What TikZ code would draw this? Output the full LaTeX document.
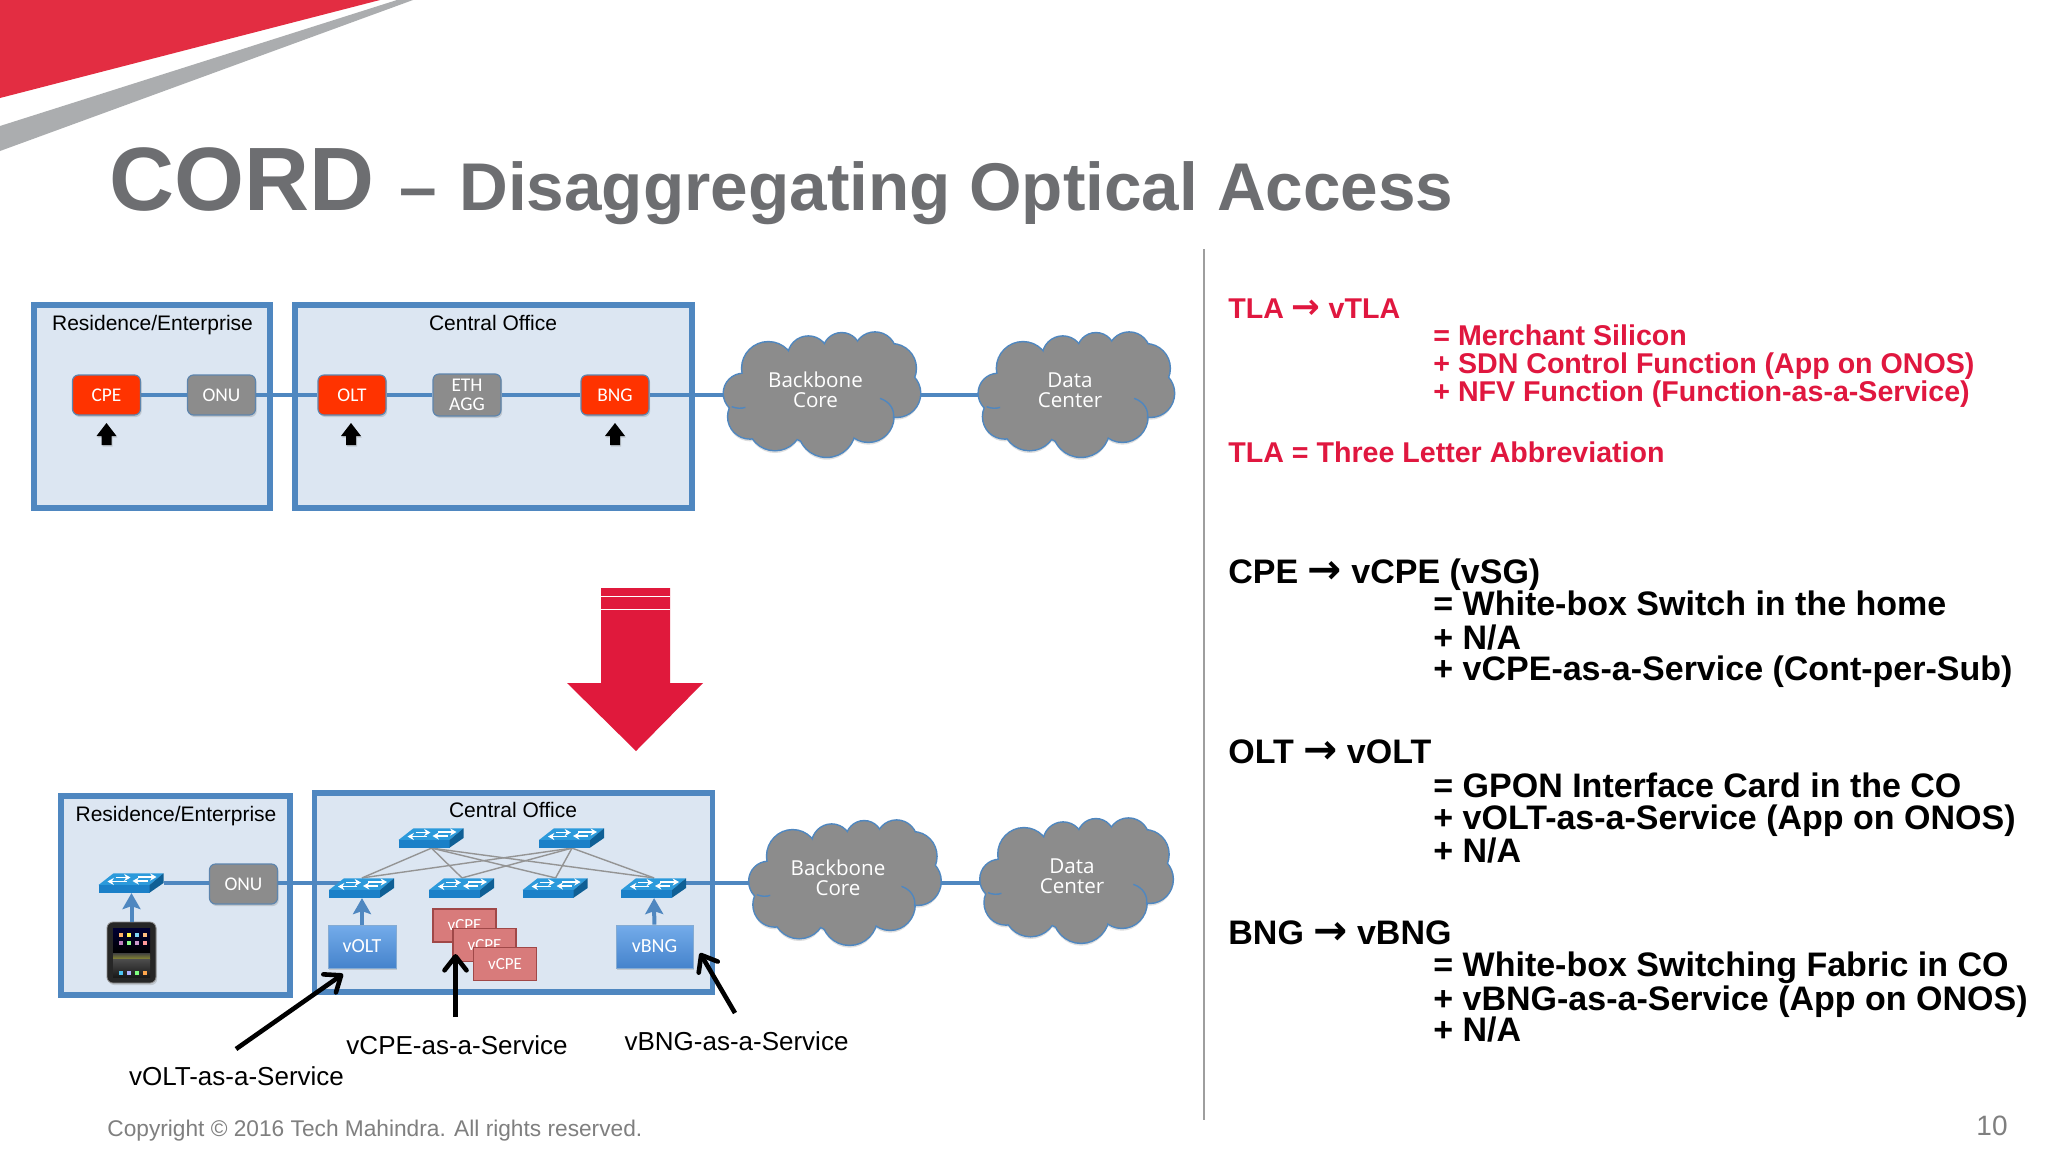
\documentclass[tikz,border=0pt]{standalone}
\usepackage{fontspec}
\usepackage{graphicx}
\setmainfont{Liberation Sans}
\newfontfamily\carlitofam{Carlito}
\newfontfamily\openfam{Open Sans}
\newfontfamily\dejafam{DejaVu Sans}
\usetikzlibrary{arrows.meta,shadows}
\pgfdeclarelayer{cont}
\pgfdeclarelayer{wire}
\pgfsetlayers{cont,wire,main}
\definecolor{linkblue}{HTML}{4F87C0}
\definecolor{boxfill}{HTML}{DCE6F2}
\definecolor{nodered}{HTML}{FF3300}
\definecolor{nodegray}{HTML}{8C8C8C}
\definecolor{bannerred}{HTML}{E32D42}
\definecolor{bannergray}{HTML}{ABADAF}
\definecolor{titlegray}{HTML}{6D6E71}
\definecolor{txtred}{HTML}{E0173F}
\definecolor{bigred}{HTML}{E0193C}
\definecolor{swfront}{HTML}{1B80C8}
\definecolor{swtop}{HTML}{2C9ADB}
\definecolor{swside}{HTML}{0F5F95}
\definecolor{cpefill}{HTML}{D87B7B}
\definecolor{cpeedge}{HTML}{A04848}
\definecolor{footgray}{HTML}{7F7F7F}
\definecolor{HLblueT}{HTML}{74ACEA}
\definecolor{HLblueB}{HTML}{4583CC}
\tikzset{
  softshadow/.style={drop shadow={opacity=.3,shadow xshift=.6pt,shadow yshift=-1pt}},
  container/.style={draw=linkblue,fill=boxfill,line width=3pt,inner sep=0pt,softshadow},
  grouplabel/.style={font=\fontsize{10.5pt}{12pt}\selectfont,inner sep=0pt,text=black},
  netbox/.style={rounded corners=3pt,draw=linkblue!70!gray,line width=.6pt,inner sep=0pt,minimum width=34pt,minimum height=20pt,text=white,align=center,font=\carlitofam\fontsize{9.7pt}{11pt}\selectfont,softshadow},
  rednode/.style={netbox,fill=nodered},
  graynode/.style={netbox,fill=nodegray},
  bluebox/.style={draw=linkblue!70,line width=.5pt,top color=HLblueT,bottom color=HLblueB,inner sep=0pt,minimum height=21.5pt,text=white,font=\carlitofam\fontsize{10pt}{12pt}\selectfont,softshadow},
  cpebox/.style={draw=cpeedge,fill=cpefill,line width=.6pt,inner sep=0pt,minimum width=31.5pt,minimum height=16.5pt,text=white,font=\carlitofam\fontsize{8.5pt}{10pt}\selectfont},
  link/.style={draw=linkblue,line width=2pt},
  upstem/.style={draw=linkblue,line width=2pt,-{Stealth[length=8pt,width=9pt,inset=1.5pt]}},
  mesh/.style={draw=black!42,line width=.7pt},
  cloudedge/.style={draw=linkblue,line width=1.5pt},
  cloudbody/.style={fill=nodegray},
  cloudtext/.style={text=white,align=center,inner sep=0pt,font=\openfam\fontsize{10.3pt}{10pt}\selectfont},
  calloutarrow/.style={draw=black,line width=2.3pt,-{Straight Barb[length=7pt,width=11pt,round]}},
  calloutlabel/.style={font=\fontsize{13pt}{15pt}\selectfont,inner sep=0pt,text=black},
  redtxt/.style={anchor=base west,inner sep=0pt,text=txtred,font=\bfseries\fontsize{14.3pt}{16pt}\selectfont},
  blacktxt/.style={anchor=base west,inner sep=0pt,text=black,font=\bfseries\fontsize{17pt}{18pt}\selectfont},
  titletxt/.style={anchor=base west,inner sep=0pt,text=titlegray,font=\bfseries},
  foottxt/.style={inner sep=0pt,text=footgray},
  switcharrow/.style={draw=white,line width=.85pt,-{Stealth[length=3.2pt,width=3.6pt]}},
}
\newcommand{\larr}{{\dejafam\bfseries\scalebox{1.2}{→}}}
\newcommand{\netswitch}[3]{%
  \begin{scope}[shift={(#2,#3)}]
    \fill[swtop] (-33,2) -- (-18,-9.7) -- (32,-9.7) -- (18,2) -- cycle;
    \fill[swfront] (-33,2) rectangle (18,9.7);
    \fill[swside] (18,2) -- (32,-9.7) -- (32,0) -- (18,9.7) -- cycle;
    \draw[switcharrow] (-16,-5.5) -- (-1,-5.5);
    \draw[switcharrow] (6,-6) -- (25,-6);
    \draw[switcharrow] (-5,-1.5) -- (-24,-1.5);
    \draw[switcharrow] (16,-2) -- (1,-2);
  \end{scope}
  \node[inner sep=0pt,minimum width=32.5pt,minimum height=9.7pt] (#1) at (#2,#3) {};}
\newcommand{\cloudblob}[3]{%
  \begin{scope}[shift={(#1,#2)},xscale=#3*.33333,yscale=.33333]
    \def\blobs{130/250/58,205/175/78,325/140/60,425/125/55,525/130/62,575/175/72,590/250/70,505/320/75,380/355/85,225/340/80,150/320/65,365/255/150}
    \foreach \cx/\cy/\cr in \blobs {\fill[black!13] (\cx,\cy+9) circle[radius=\cr];}
    \foreach \cx/\cy/\cr in \blobs {\draw[cloudedge] (\cx,\cy) circle[radius=\cr];}
    \foreach \cx/\cy/\cr in \blobs {\fill[cloudbody] (\cx,\cy) circle[radius=\cr];}
    \foreach \cx/\cy/\cr in {230/260/85,500/250/90,470/200/80,280/210/70,180/270/50,545/240/70} {\fill[cloudbody] (\cx,\cy) circle[radius=\cr];}
    \draw[linkblue,line width=.7pt] (540,265) .. controls (570,275) and (585,300) .. (580,325);
    \draw[linkblue,line width=.7pt] (95,290) .. controls (110,296) and (125,296) .. (136,292);
  \end{scope}}
\newcommand{\blackup}[1]{%
  \fill[black,drop shadow={opacity=.3,shadow xshift=.5pt,shadow yshift=-.8pt}] (#1,423) -- (#1+10,436) -- (#1+5,436) -- (#1+5,445) -- (#1-5,445) -- (#1-5,436) -- (#1-10,436) -- cycle;}
\begin{document}
\begin{tikzpicture}[x=.5pt,y=-.5pt]
\useasboundingbox (0,0) rectangle (2048,1152);
\begin{pgfonlayer}{cont}
  \fill[white] (0,0) rectangle (2048,1152);
  \fill[bannerred] (0,0) -- (380,0) -- (0,98) -- cycle;
  \fill[bannergray] (0,126) -- (397,0) -- (413,0) -- (0,151) -- cycle;
  \node[container,minimum width=118pt,minimum height=101.5pt] (resA) at (152,406.5) {};
  \node[container,minimum width=198.5pt,minimum height=101.5pt] (coA) at (493.5,406.5) {};
  \node[container,minimum width=114.5pt,minimum height=99.5pt] (resB) at (175.5,895.5) {};
  \node[container,minimum width=199pt,minimum height=99.5pt,line width=2.6pt] (coB) at (513.5,892.5) {};
\end{pgfonlayer}
% title
\node[titletxt,font=\bfseries\fontsize{45pt}{48pt}\selectfont] (title1) at (109,210) {CORD};
\node[titletxt,font=\bfseries\fontsize{33.75pt}{38pt}\selectfont] (title2) at (399,210) {–};
\node[titletxt,font=\bfseries\fontsize{33.75pt}{38pt}\selectfont] (title3) at (459,210) {Disaggregating Optical Access};
% divider
\draw[black!38,line width=1pt] (1204,249) -- (1204,1120);
% top diagram
\node[grouplabel] (resAl) at (152.5,325) {Residence/Enterprise};
\node[grouplabel] (coAl) at (493,323) {Central Office};
\node[rednode] (cpe) at (106.5,395) {CPE};
\node[graynode] (onu) at (221.5,395) {ONU};
\node[rednode] (olt) at (352,395) {OLT};
\node[graynode,minimum height=21pt,font=\carlitofam\fontsize{9.7pt}{9.5pt}\selectfont] (eth) at (467,395) {ETH\\AGG};
\node[rednode] (bng) at (615,395) {BNG};
\blackup{106.5}
\blackup{351}
\blackup{615}
\cloudblob{700}{310}{1}
\cloudblob{955}{310}{.995}
\node[cloudtext] (bbA) at (815.5,390) {Backbone\\Core};
\node[cloudtext] (dcA) at (1070,390) {Data\\Center};
\begin{pgfonlayer}{wire}
  \draw[link] (cpe) -- (onu);
  \draw[link] (onu) -- (olt);
  \draw[link] (olt) -- (eth);
  \draw[link] (eth) -- (bng);
  \draw[link] (bng) -- (bng -| bbA);
  \draw[link] (bng -| bbA) -- (bng -| dcA);
\end{pgfonlayer}
% big arrow
\fill[bigred] (601,588) -- (670,588) -- (670,683) -- (703,683) -- (636,751) -- (567,683) -- (601,683) -- cycle;
\fill[white] (601,595.5) rectangle (670,597);
\fill[white] (601,608.5) rectangle (670,610);
% bottom diagram
\node[grouplabel] (resBl) at (176,816) {Residence/Enterprise};
\node[grouplabel] (coBl) at (513,810) {Central Office};
\netswitch{home}{131.5}{883}
\netswitch{spineL}{431.5}{838}
\netswitch{spineR}{572}{838}
\netswitch{leafA}{362}{888}
\netswitch{leafB}{462}{888}
\netswitch{leafC}{555.6}{888}
\netswitch{leafD}{654}{888}
\node[graynode,minimum height=20pt] (onuB) at (243.5,884) {ONU};
\node[rounded corners=3pt,fill=black!85,draw=black!45,line width=.4pt,inner sep=0pt,minimum width=24.5pt,minimum height=30.5pt,softshadow] (tablet) at (131.5,952.5) {};
\shade[top color=black!80!blue,bottom color=black] (113,928) rectangle (150,953);
\shade[top color=black!75,bottom color=black!45!yellow!60!gray] (113,953) rectangle (150,959);
\shade[top color=black!70,bottom color=black!90] (113,959) rectangle (150,977);
\foreach \ix/\ca/\cb/\cc in {119/orange!60!white/violet!50!white/cyan!70!white,127/yellow!70!white/green!45!white/blue!30!white,135/cyan!50!white/violet!40!white/green!50!white,143/orange!50!white/red!40!white/orange!70!white} {
  \fill[\ca] (\ix,933) rectangle +(3.5,3.5);
  \fill[\cb] (\ix,941) rectangle +(3.5,3.5);
  \fill[\cc] (\ix,971) rectangle +(3.5,3.5);
}
\node[bluebox,minimum width=34pt] (volt) at (362,946.5) {vOLT};
\node[bluebox,minimum width=38.5pt] (vbng) at (654.5,946.5) {vBNG};
\node[cpebox] (cpeA) at (464.5,925.5) {vCPE};
\node[cpebox] (cpeB) at (484.5,945) {vCPE};
\node[cpebox] (cpeC) at (505,964) {vCPE};
\cloudblob{726}{798}{.975}
\cloudblob{957}{796}{.98}
\node[cloudtext] (bbB) at (838,878) {Backbone\\Core};
\node[cloudtext] (dcB) at (1072,876) {Data\\Center};
\begin{pgfonlayer}{wire}
  \draw[link] (home) -- (home -| onuB);
  \draw[link] (home -| onuB) -- (home -| leafA);
  \draw[link] (home -| leafD) -- (home -| bbB);
  \draw[link] (home -| bbB) -- (home -| dcB);
  \foreach \sp in {spineL,spineR} {
    \foreach \lf in {leafA,leafB,leafC,leafD} {
      \draw[mesh] (\sp.south) -- (\lf.north);
    }
  }
\end{pgfonlayer}
\draw[upstem] (tablet) -- (home);
\draw[upstem] (volt) -- (leafA);
\draw[upstem] (vbng) -- (leafD);
\coordinate (voltFrom) at (236,1049);
\coordinate (voltTip) at (343,974);
\coordinate (cpeFrom) at (455.5,1017);
\coordinate (cpeTip) at (455.5,954);
\coordinate (bngFrom) at (735,1013);
\coordinate (bngTip) at (700,953);
\draw[calloutarrow] (voltFrom) -- (voltTip);
\draw[calloutarrow] (cpeFrom) -- (cpeTip);
\draw[calloutarrow] (bngFrom) -- (bngTip);
\node[calloutlabel] (voltL) at (236.5,1076) {vOLT-as-a-Service};
\node[calloutlabel] (cpeL) at (457,1045) {vCPE-as-a-Service};
\node[calloutlabel] (bngL) at (736.5,1041) {vBNG-as-a-Service};
% right panel
\node[redtxt] (r1) at (1228,318) {TLA \larr{} vTLA};
\node[redtxt] (r2) at (1433,345) {= Merchant Silicon};
\node[redtxt] (r3) at (1433,373) {+ SDN Control Function (App on ONOS)};
\node[redtxt] (r4) at (1433,401) {+ NFV Function (Function-as-a-Service)};
\node[redtxt] (r5) at (1228,462) {TLA = Three Letter Abbreviation};
\node[blacktxt] (c1) at (1228,583) {CPE \larr{} vCPE (vSG)};
\node[blacktxt] (c2) at (1433,615) {= White-box Switch in the home};
\node[blacktxt] (c3) at (1433,649) {+ N/A};
\node[blacktxt] (c4) at (1433,680) {+ vCPE-as-a-Service (Cont-per-Sub)};
\node[blacktxt] (o1) at (1228,763) {OLT \larr{} vOLT};
\node[blacktxt] (o2) at (1433,797) {= GPON Interface Card in the CO};
\node[blacktxt] (o3) at (1433,829) {+ vOLT-as-a-Service (App on ONOS)};
\node[blacktxt] (o4) at (1433,862) {+ N/A};
\node[blacktxt] (b1) at (1228,944) {BNG \larr{} vBNG};
\node[blacktxt] (b2) at (1433,976) {= White-box Switching Fabric in CO};
\node[blacktxt] (b3) at (1433,1010) {+ vBNG-as-a-Service (App on ONOS)};
\node[blacktxt] (b4) at (1433,1041) {+ N/A};
% footer
\node[foottxt,anchor=base west,font=\fontsize{11.35pt}{13pt}\selectfont] (copy) at (107,1136) {Copyright © 2016 Tech Mahindra. All rights reserved.};
\node[foottxt,anchor=base west,font=\fontsize{14pt}{16pt}\selectfont] (pg) at (1976,1135) {10};
\end{tikzpicture}
\end{document}
